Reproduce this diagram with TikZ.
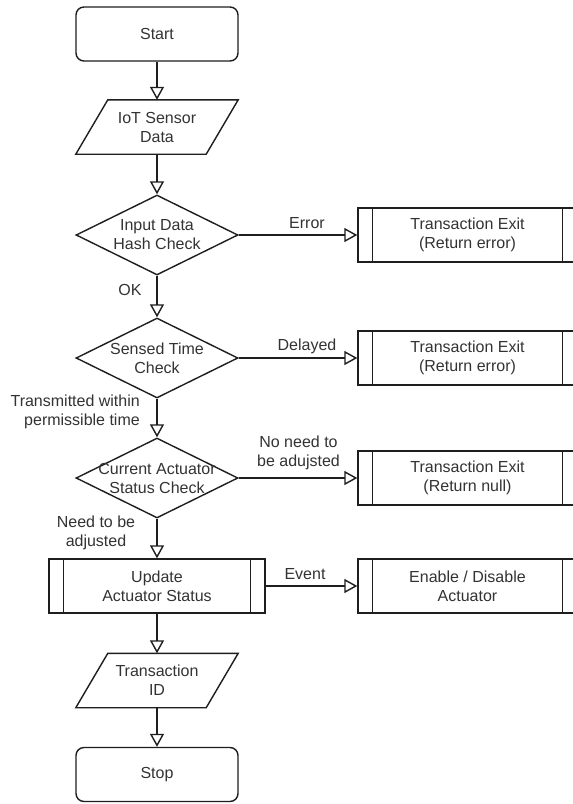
\documentclass[tikz,border=0pt]{standalone}
\usepackage{fontspec}
\setmainfont{Liberation Sans}
\usetikzlibrary{shapes.geometric,arrows.meta}
\definecolor{ink}{HTML}{1E1E1E}
\definecolor{txt}{HTML}{333333}

\begin{document}
\begin{tikzpicture}[x=1pt,y=-1pt,
  every node/.style={font=\fontsize{16}{19}\selectfont, text=txt, align=center},
  box/.style={draw=ink, line width=1.4pt, minimum width=162pt, minimum height=54pt, inner sep=0pt},
  terminal/.style={box, rounded corners=8pt},
  io/.style={minimum width=162pt, minimum height=54pt, inner sep=0pt},
  decision/.style={draw=ink, line width=1.4pt, diamond, minimum width=162pt,
    minimum height=80pt, inner sep=0pt},
  subproc/.style={box, minimum width=219pt},
  flow/.style={draw=ink, line width=1.4pt, -{Triangle[open, length=13pt, width=14pt]}},
  lbl/.style={inner sep=0pt}
]
\fill[white] (0,0) rectangle (573,804);
\useasboundingbox (0,0) rectangle (573,804);
\clip (0,0) rectangle (573,804);

% main column
\node[terminal] (start) at (157,34) {Start};
\node[io] (sensor) at (157,127) {IoT Sensor\\Data};
\node[decision, label={center:{Input Data\\Hash Check}}] (hash) at (157,235) {};
\node[decision, label={center:{Sensed Time\\Check}}] (time) at (157,358) {};
\node[decision, label={center:{Current Actuator\\Status Check}}] (status) at (157,478) {};
\node[subproc, minimum width=216pt] (update) at (157,586) {Update\\Actuator Status};
\node[io] (txid) at (157,680.5) {Transaction\\ID};
\node[terminal] (stop) at (157,774.5) {Stop};

% data (parallelogram) outlines
\foreach \n in {sensor,txid}
  \draw[ink, line width=1.4pt, line join=miter]
    ([xshift=32pt]\n.north west) -- (\n.north east)
    -- ([xshift=-32pt]\n.south east) -- (\n.south west) -- cycle;

% side branches
\node[subproc] (exit1) at (467.5,235) {Transaction Exit\\(Return error)};
\node[subproc] (exit2) at (467.5,358) {Transaction Exit\\(Return error)};
\node[subproc] (exit3) at (467.5,478) {Transaction Exit\\(Return null)};
\node[subproc] (act) at (467.5,586) {Enable / Disable\\Actuator};

% inner bars of the predefined-process boxes
\foreach \n in {exit1,exit2,exit3,act,update}
  \draw[ink, line width=1.4pt]
    ([xshift=15pt]\n.north west) -- ([xshift=15pt]\n.south west)
    ([xshift=-15pt]\n.north east) -- ([xshift=-15pt]\n.south east);

% connectors
\draw[flow] (start.south) -- (sensor.north);
\draw[flow] (sensor.south) -- (hash.north);
\draw[flow] (hash.south) -- (time.north);
\draw[flow] (time.south) -- (status.north);
\draw[flow] (status.south) -- (update.north);
\draw[flow] (update.south) -- (txid.north);
\draw[flow] (txid.south) -- (stop.north);
\draw[flow] (hash.east) -- (exit1.west);
\draw[flow] (time.east) -- (exit2.west);
\draw[flow] (status.east) -- (exit3.west);
\draw[flow] (update.east) -- (act.west);

% connector labels
\node[lbl] (lerr) at (307,223) {Error};
\node[lbl] (lok) at (130,290) {OK};
\node[lbl] (ldel) at (307,346) {Delayed};
\node[lbl, anchor=east, align=right] (lin) at (140,412) {Transmitted within\\permissible time};
\node[lbl] (lno) at (298.5,452.5) {No need to\\be adujsted};
\node[lbl] (lneed) at (96,532.5) {Need to be\\adjusted};
\node[lbl] (lev) at (305,574) {Event};
\end{tikzpicture}
\end{document}
